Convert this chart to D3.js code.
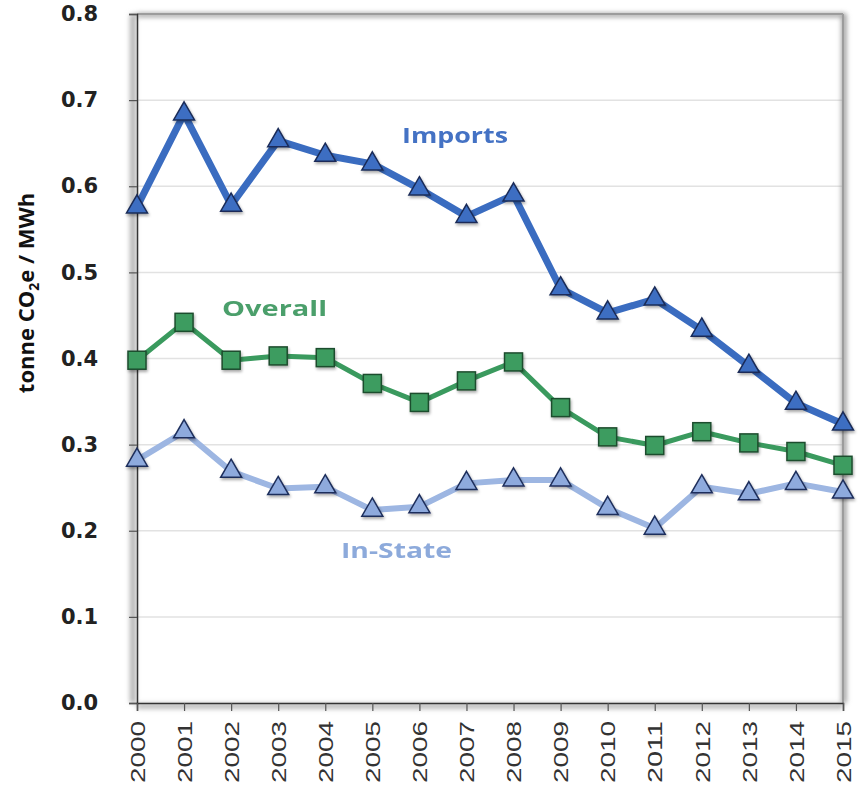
<!DOCTYPE html>
<html><head><meta charset="utf-8">
<script src="https://cdn.jsdelivr.net/npm/d3@7"></script>
<style>body{margin:0;background:#fff}svg{display:block}</style>
</head><body>
<svg id="c" width="860" height="794"></svg>
<script>
const years = [2000,2001,2002,2003,2004,2005,2006,2007,2008,2009,2010,2011,2012,2013,2014,2015];
const imports = [0.576,0.684,0.578,0.653,0.636,0.626,0.597,0.565,0.590,0.481,0.453,0.469,0.433,0.391,0.348,0.324];
const overall = [0.398,0.442,0.398,0.403,0.401,0.371,0.349,0.374,0.396,0.343,0.309,0.299,0.315,0.302,0.292,0.276];
const inState = [0.282,0.315,0.269,0.249,0.251,0.224,0.228,0.255,0.259,0.259,0.226,0.203,0.251,0.243,0.255,0.245];
const yTicks = [0,0.1,0.2,0.3,0.4,0.5,0.6,0.7,0.8];
const seriesNames = ["Imports","Overall","In-State"];

const svg = d3.select("#c");
const L=137, R=843, T=14, B=703;
const x = d3.scaleLinear().domain([2000,2015]).range([L,R]);
const y = d3.scaleLinear().domain([0,0.8]).range([B,T]);

const defs = svg.append("defs");
const f = defs.append("filter").attr("id","sh").attr("x","-50%").attr("y","-50%").attr("width","200%").attr("height","200%");
f.append("feGaussianBlur").attr("stdDeviation",2.5);
const fm = defs.append("filter").attr("id","msh").attr("x","-50%").attr("y","-50%").attr("width","200%").attr("height","200%");
fm.append("feGaussianBlur").attr("in","SourceAlpha").attr("stdDeviation",1.5).attr("result","b");
fm.append("feOffset").attr("dx",1).attr("dy",1.5).attr("result","o");
fm.append("feComponentTransfer").attr("in","o").attr("result","o2").append("feFuncA").attr("type","linear").attr("slope",0.35);
const fmm = fm.append("feMerge"); fmm.append("feMergeNode").attr("in","o2"); fmm.append("feMergeNode").attr("in","SourceGraphic");

// gridlines
svg.append("g").selectAll("line").data(yTicks.filter(d=>d>0&&d<0.8)).join("line")
  .attr("x1",L).attr("x2",R).attr("y1",d=>y(d)).attr("y2",d=>y(d))
  .attr("stroke","#e2e2e2").attr("stroke-width",1.5);

// frame shadows
const sh = svg.append("g").attr("filter","url(#sh)");
sh.append("line").attr("x1",L).attr("x2",R+2).attr("y1",T+1).attr("y2",T+1).attr("stroke","#9a9a9a").attr("stroke-width",4);
sh.append("line").attr("x1",R+1).attr("x2",R+1).attr("y1",T).attr("y2",B).attr("stroke","#9a9a9a").attr("stroke-width",5);
sh.append("line").attr("x1",L-4).attr("x2",L-4).attr("y1",T).attr("y2",B).attr("stroke","#b0b0b0").attr("stroke-width",6);
sh.append("line").attr("x1",L).attr("x2",R).attr("y1",B+3).attr("y2",B+3).attr("stroke","#b0b0b0").attr("stroke-width",5);
svg.append("line").attr("x1",L).attr("x2",R).attr("y1",T).attr("y2",T).attr("stroke","#9c9c9c").attr("stroke-width",2);
svg.append("line").attr("x1",R).attr("x2",R).attr("y1",T).attr("y2",B).attr("stroke","#9c9c9c").attr("stroke-width",2);

// axes
const yAxis = svg.append("g").attr("transform",`translate(${L},0)`)
  .call(d3.axisLeft(y).tickValues(yTicks).tickFormat(d3.format(".1f")).tickSize(8).tickPadding(36));
yAxis.select(".domain").attr("stroke","#333").attr("stroke-width",1.5);
yAxis.selectAll(".tick line").attr("stroke","#555").attr("stroke-width",1.2);
yAxis.selectAll("text").attr("font-family","'DejaVu Sans', sans-serif").attr("font-weight","bold")
  .attr("font-size",21).attr("fill","#222").attr("text-anchor","start").attr("x",-76);

const xAxis = svg.append("g").attr("transform",`translate(0,${B})`)
  .call(d3.axisBottom(x).tickValues(years).tickFormat(d3.format("d")).tickSize(8));
xAxis.select(".domain").attr("stroke","#333").attr("stroke-width",1.5);
xAxis.selectAll(".tick line").attr("stroke","#555").attr("stroke-width",1.2);
xAxis.selectAll("text").attr("font-family","'Liberation Sans', Arial, sans-serif").attr("font-size",20)
  .attr("fill","#333").attr("transform","rotate(-90)").attr("text-anchor","end")
  .attr("x",-18).attr("y",0).attr("dy","0.36em")
  .attr("textLength",62).attr("lengthAdjust","spacingAndGlyphs");

// y title
svg.append("text").attr("transform","translate(34,293) rotate(-90)").attr("text-anchor","middle")
  .attr("font-family","'Open Sans', sans-serif").attr("font-weight","bold").attr("font-size",22).attr("fill","#111")
  .call(t=>{t.append("tspan").text("tonne CO");t.append("tspan").attr("font-size",14).attr("dy",5).text("2");
    t.append("tspan").attr("dy",-5).text("e / MWh");});

const line = d3.line().x((d,i)=>x(years[i])).y(d=>y(d));
const series = [
  {name:seriesNames[2], data:inState, line:"#9db6e2", w:6, fill:"#8eaadd", stroke:"#1f2f5c", shape:"tri"},
  {name:seriesNames[1], data:overall, line:"#3a9a5e", w:5, fill:"#3e9c60", stroke:"#1e4d2e", shape:"sq"},
  {name:seriesNames[0], data:imports, line:"#3a6cc0", w:7, fill:"#3d6ec2", stroke:"#1a2c58", shape:"tri"}
];
const tri = d3.symbol().type(d3.symbolTriangle).size(190);
series.forEach(s=>{
  svg.append("path").attr("d",line(s.data)).attr("fill","none").attr("stroke",s.line)
    .attr("stroke-width",s.w).attr("stroke-linejoin","round");
  const g = svg.append("g").attr("filter","url(#msh)");
  if(s.shape==="tri"){
    g.selectAll("path").data(s.data).join("path").attr("d",tri)
      .attr("transform",(d,i)=>`translate(${x(years[i])},${y(d)})`)
      .attr("fill",s.fill).attr("stroke",s.stroke).attr("stroke-width",1.5);
  } else {
    g.selectAll("rect").data(s.data).join("rect")
      .attr("x",(d,i)=>x(years[i])-9).attr("y",d=>y(d)-9).attr("width",18).attr("height",18)
      .attr("fill",s.fill).attr("stroke",s.stroke).attr("stroke-width",1.5);
  }
});

// series labels
const lab = [
  {t:seriesNames[0], x:402, y:143, w:106, c:"#4472c4"},
  {t:seriesNames[1], x:222, y:316, w:105, c:"#4b9f6b"},
  {t:seriesNames[2], x:341, y:558, w:111, c:"#8daadb"}
];
svg.append("g").selectAll("text").data(lab).join("text").attr("x",d=>d.x).attr("y",d=>d.y)
  .attr("text-anchor","start").attr("font-family","'Open Sans', sans-serif").attr("font-weight","bold")
  .attr("font-size",22).attr("fill",d=>d.c).attr("textLength",d=>d.w).attr("lengthAdjust","spacingAndGlyphs")
  .text(d=>d.t);
</script>
</body></html>
